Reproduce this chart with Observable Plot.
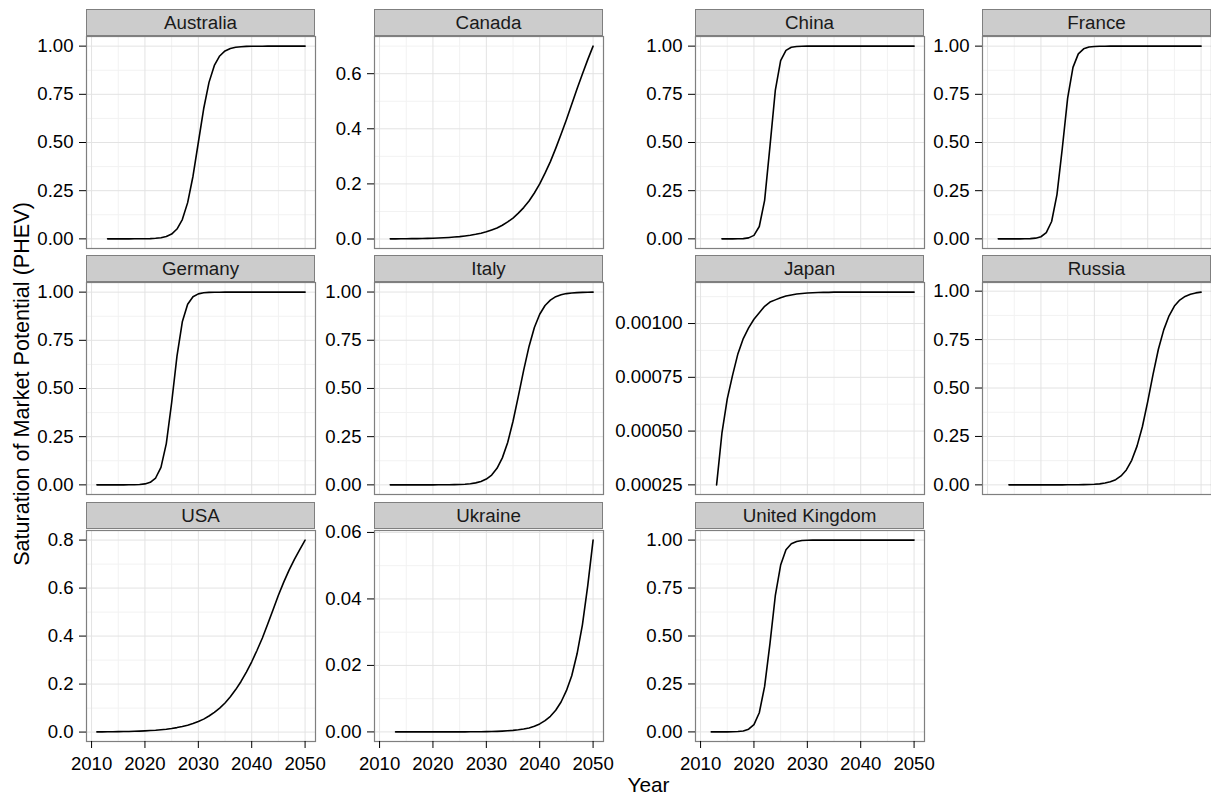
<!DOCTYPE html>
<html><head><meta charset="utf-8">
<script src="https://cdn.jsdelivr.net/npm/d3@7"></script>
<script src="https://cdn.jsdelivr.net/npm/@observablehq/plot@0.6"></script>
<style>
body{margin:0;background:white;}
#chart{position:relative;width:1211px;height:798px;overflow:hidden;font-family:"Liberation Sans",Arial,sans-serif;background:white;}
.strip{position:absolute;box-sizing:border-box;height:27px;background:#CCCCCC;border:1px solid #7F7F7F;text-align:center;line-height:25px;font-size:18.8px;color:#1a1a1a;white-space:nowrap;}
.panel{position:absolute;}
.title{position:absolute;color:black;white-space:nowrap;line-height:1;}
</style></head><body><div id="chart"></div>
<script>
// ---------- data ----------
const countries = ["Australia","Canada","China","France","Germany","Italy","Japan","Russia","USA","Ukraine","United Kingdom"];
const firstYears = [2013, 2012, 2014, 2012, 2011, 2012, 2013, 2014, 2011, 2013, 2012];

const australia = [0,0,0,0,0.0001, 0.0002,0.0003,0.0007,0.0014,0.0029, 0.006,0.012,0.025,0.051,0.10,
  0.188,0.325,0.50,0.675,0.812, 0.90,0.949,0.975,0.988,0.994, 0.997,0.9986,0.9993,0.9997,0.9998,
  0.9999,1,1,1,1, 1,1,1];
const canada = [0.0005, 0.0006,0.0008,0.0010,0.0012,0.0015, 0.0019,0.0023,0.0029,0.0036,0.0045,
  0.0056,0.0070,0.0087,0.011,0.0137, 0.017,0.021,0.026,0.033,0.040, 0.050,0.062,0.076,0.094,0.114,
  0.138,0.167,0.200,0.239,0.281, 0.329,0.380,0.433,0.489,0.545, 0.599,0.651,0.700];
const china = [0, 0,0.0001,0.0004,0.0014,0.005, 0.018,0.064,0.20,0.48,0.77, 0.925,0.978,0.994,0.9984,0.9995,
  0.9999,1,1,1,1, 1,1,1,1,1, 1,1,1,1,1, 1,1,1,1,1, 1];
const france = [0, 0,0,0.0001,0.0001,0.0004, 0.0012,0.0037,0.011,0.032,0.09, 0.23,0.47,0.73,0.89,0.96,
  0.986,0.9954,0.9985,0.9995,0.9998, 1,1,1,1,1, 1,1,1,1,1, 1,1,1,1,1, 1,1,1];
const germany = [0,0,0,0,0, 0.0001,0.0003,0.0007,0.0018,0.005, 0.0134,0.0356,0.091,0.214,0.426,
  0.668,0.846,0.937,0.976,0.991, 0.9967,0.9988,0.9995,0.9998,1, 1,1,1,1,1, 1,1,1,1,1, 1,1,1,1,1];
const italy = [0, 0,0,0,0,0, 0,0.0001,0.0001,0.0002,0.0004, 0.0007,0.0012,0.002,0.0034,0.0059,
  0.0103,0.0177,0.030,0.051,0.086, 0.14,0.22,0.33,0.46,0.595, 0.718,0.816,0.885,0.930,0.958,
  0.976,0.986,0.992,0.995,0.9972, 0.9984,0.9991,0.9995];
const japan = [0.00025,0.00049,0.00065,0.00076,0.00086, 0.00093,0.00098,0.00102,0.00105,0.00108,
  0.00110,0.00111,0.00112,0.001128,0.001133, 0.001137,0.00114,0.001142,0.001143,0.001144,
  0.001145,0.001145,0.001146,0.001146,0.001146, 0.001146,0.001146,0.001146,0.001146,0.001146,
  0.001146,0.001146,0.001146,0.001146,0.001146, 0.001146,0.001146,0.001146];
const russia = [0, 0,0,0,0,0, 0,0,0.0001,0.0001,0.0001, 0.0002,0.0003,0.0006,0.001,0.0018,
  0.0031,0.0053,0.0092,0.0158,0.027, 0.046,0.077,0.127,0.20,0.30, 0.43,0.57,0.70,0.80,0.873,
  0.923,0.954,0.973,0.984,0.991, 0.995];
const usa = [0.0007,0.0009,0.0011,0.0014,0.0017, 0.0021,0.0026,0.0033,0.0041,0.0051,
  0.0063,0.0078,0.0098,0.0121,0.015, 0.0187,0.0232,0.0288,0.0356,0.044, 0.054,0.067,0.082,0.100,0.121,
  0.147,0.177,0.211,0.250,0.293, 0.341,0.392,0.45,0.51,0.57, 0.625,0.675,0.72,0.76,0.80];
const ukraine = [0,0,0,0,0, 0.000001,0.000002,0.000003,0.000005,0.000007, 0.00001,0.000013,0.000018,0.000025,0.000034,
  0.000047,0.000065,0.00009,0.00012,0.00017, 0.00024,0.00033,0.00045,0.00063,0.00087,
  0.0012,0.0017,0.0024,0.0034,0.0047, 0.0065,0.009,0.0124,0.0169,0.0235, 0.0322,0.0440,0.0577];
const unitedKingdom = [0, 0,0.0001,0.0002,0.0006,0.0018, 0.005,0.014,0.038,0.10,0.237, 0.46,0.71,0.87,0.95,0.981,
  0.993,0.9977,0.9992,0.9997,1, 1,1,1,1,1, 1,1,1,1,1, 1,1,1,1,1, 1,1,1];

const seriesValues = [australia, canada, china, france, germany, italy, japan, russia, usa, ukraine, unitedKingdom];

const ticksShare = [0, 0.25, 0.5, 0.75, 1];
const ticksCanada = [0, 0.2, 0.4, 0.6];
const ticksJapan = [0.00025, 0.0005, 0.00075, 0.001];
const ticksUSA = [0, 0.2, 0.4, 0.6, 0.8];
const ticksUkraine = [0, 0.02, 0.04, 0.06];
const panelYTicks = [ticksShare, ticksCanada, ticksShare, ticksShare, ticksShare, ticksShare, ticksJapan, ticksShare, ticksUSA, ticksUkraine, ticksShare];
const panelYFormat = [".2f", ".1f", ".2f", ".2f", ".2f", ".2f", ".5f", ".2f", ".1f", ".2f", ".2f"];
const xTicks = [2010, 2020, 2030, 2040, 2050];
const xTitle = "Year";
const yTitle = "Saturation of Market Potential (PHEV)";

// ---------- layout ----------
const colLeft = [86, 374, 695, 982];
const stripTop = [9, 255, 502];
const panelTop = [36, 282, 530];
const panelH = [212, 212, 211];
const panelW = 229;
const ML = 90;

const chart = document.getElementById("chart");

const rows = countries.map((c, i) => seriesValues[i].map((v, j) => ({country: c, year: firstYears[i] + j, value: v})));
const allYears = rows.flat().map(d => d.year);
const x0 = d3.min(allYears), x1 = d3.max(allYears);
const xDomain = [x0 - 0.05 * (x1 - x0), x1 + 0.05 * (x1 - x0)];

function minorBreaks(ticks, domain) {
  const step = ticks[1] - ticks[0];
  const ext = [ticks[0] - step, ...ticks, ticks[ticks.length - 1] + step];
  const out = [];
  for (let k = 0; k < ext.length - 1; k++) {
    const m = (ext[k] + ext[k + 1]) / 2;
    if (m >= domain[0] && m <= domain[1]) out.push(m);
  }
  return out;
}

countries.forEach((name, i) => {
  const r = Math.floor(i / 4), c = i % 4;
  const data = rows[i];
  const vmin = d3.min(data, d => d.value), vmax = d3.max(data, d => d.value);
  const yDomain = [vmin - 0.05 * (vmax - vmin), vmax + 0.05 * (vmax - vmin)];
  const yt = panelYTicks[i];
  const bottom = r === 2;
  const MB = bottom ? 40 : 1;

  const strip = document.createElement("div");
  strip.className = "strip";
  strip.style.left = colLeft[c] + "px";
  strip.style.top = stripTop[r] + "px";
  strip.style.width = panelW + "px";
  strip.textContent = name;
  chart.appendChild(strip);

  const marks = [
    Plot.ruleX(minorBreaks(xTicks, xDomain), {stroke: "#F2F2F2", strokeWidth: 1}),
    Plot.ruleY(minorBreaks(yt, yDomain), {stroke: "#F2F2F2", strokeWidth: 1}),
    Plot.ruleX(xTicks, {stroke: "#E3E3E3", strokeWidth: 1}),
    Plot.ruleY(yt, {stroke: "#E3E3E3", strokeWidth: 1}),
    Plot.line(data, {x: "year", y: "value", stroke: "black", strokeWidth: 1.6}),
    Plot.frame({stroke: "#7F7F7F", strokeWidth: 1.2}),
    Plot.axisY(yt, {tickSize: 7, tickPadding: 6, tickFormat: d3.format(panelYFormat[i]), fontSize: 18.6, label: null, color: "black"})
  ];
  if (bottom) marks.push(Plot.axisX(xTicks, {tickSize: 7, tickPadding: 8, tickFormat: d => String(d), fontSize: 18.6, label: null, color: "black"}));

  const svg = Plot.plot({
    width: ML + panelW + 1,
    height: 1 + panelH[r] + MB,
    marginLeft: ML, marginRight: 1, marginTop: 1, marginBottom: MB,
    x: {domain: xDomain, axis: bottom ? undefined : null},
    y: {domain: yDomain},
    style: {background: "transparent", fontFamily: "Liberation Sans, Arial, sans-serif", fontSize: "18.6px", color: "black", overflow: "visible"},
    marks
  });
  const holder = document.createElement("div");
  holder.className = "panel";
  holder.style.left = (colLeft[c] - ML) + "px";
  holder.style.top = (panelTop[r] - 1) + "px";
  holder.style.width = (ML + panelW + 1) + "px";
  holder.appendChild(svg);
  chart.appendChild(holder);
});

const xt = document.createElement("div");
xt.className = "title";
xt.textContent = xTitle;
xt.style.fontSize = "20.8px";
xt.style.left = "648.5px";
xt.style.top = "784.5px";
xt.style.transform = "translate(-50%, -50%)";
chart.appendChild(xt);

const ytl = document.createElement("div");
ytl.className = "title";
ytl.textContent = yTitle;
ytl.style.fontSize = "21.6px";
ytl.style.left = "22px";
ytl.style.top = "384px";
ytl.style.transform = "translate(-50%, -50%) rotate(-90deg)";
chart.appendChild(ytl);
</script></body></html>
